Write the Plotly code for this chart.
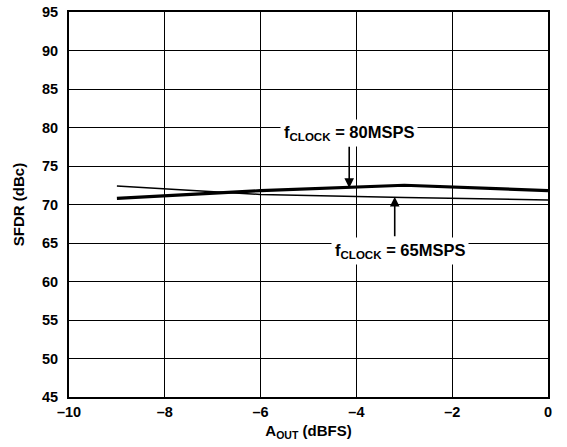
import plotly.graph_objects as go

x_vals = [-9, -6, -3, 0]
sfdr_80 = [70.8, 71.8, 72.5, 71.8]
sfdr_65 = [72.4, 71.3, 70.9, 70.6]
x_ticks = [-10, -8, -6, -4, -2, 0]
x_tick_text = ["\u201310", "\u20138", "\u20136", "\u20134", "\u20132", "0"]
y_ticks = [45, 50, 55, 60, 65, 70, 75, 80, 85, 90, 95]

FONT = "Liberation Sans, Arial, sans-serif"

fig = go.Figure()
fig.add_trace(go.Scatter(x=x_vals, y=sfdr_65, mode="lines",
                         line=dict(color="black", width=1.5), showlegend=False))
fig.add_trace(go.Scatter(x=x_vals, y=sfdr_80, mode="lines",
                         line=dict(color="black", width=3.2), showlegend=False))

# arrows
fig.add_annotation(x=-4.15, y=72.15, ax=0, ay=-43, text="", showarrow=True,
                   arrowhead=2, arrowsize=1.2, arrowwidth=1.6, arrowcolor="black",
                   xref="x", yref="y")
fig.add_annotation(x=-3.2, y=71.0, ax=0, ay=41, text="", showarrow=True,
                   arrowhead=2, arrowsize=1.2, arrowwidth=1.6, arrowcolor="black",
                   xref="x", yref="y")
# labels
fig.add_annotation(x=-4.15, y=79.3, text="f<sub>CLOCK</sub> = 80MSPS", showarrow=False,
                   bgcolor="white", borderpad=3,
                   font=dict(family=FONT, size=16.5, color="black", weight="bold"))
fig.add_annotation(x=-3.1, y=64.0, text="f<sub>CLOCK</sub> = 65MSPS", showarrow=False,
                   bgcolor="white", borderpad=3,
                   font=dict(family=FONT, size=16.5, color="black", weight="bold"))

fig.update_layout(
    width=567, height=447,
    margin=dict(l=69, r=19, t=12, b=50),
    plot_bgcolor="white", paper_bgcolor="white",
    font=dict(family=FONT, size=15, color="black", weight="bold"),
)
fig.update_xaxes(range=[-10, 0], tickvals=x_ticks, ticktext=x_tick_text,
                 automargin=False,
                 showgrid=True, gridcolor="black", gridwidth=1,
                 showline=True, linecolor="black", linewidth=2, mirror=True,
                 zeroline=False, ticks="", ticklen=0, ticklabelstandoff=1,
                 title=dict(text="A<sub>OUT</sub> (dBFS)", standoff=6,
                            font=dict(family=FONT, size=15, weight="bold")),
                 tickfont=dict(family=FONT, size=14.5, weight="bold"))
fig.update_yaxes(range=[45, 95], tickvals=y_ticks,
                 automargin=False,
                 showgrid=True, gridcolor="black", gridwidth=1,
                 showline=True, linecolor="black", linewidth=2, mirror=True,
                 zeroline=False, ticks="", ticklen=0, ticklabelstandoff=6,
                 title=dict(text="SFDR (dBc)", standoff=14,
                            font=dict(family=FONT, size=15, weight="bold")),
                 tickfont=dict(family=FONT, size=14.5, weight="bold"))

fig.write_html("out.html", config={"displayModeBar": False},
               post_script="document.body.style.margin='0';document.body.style.padding='0';document.body.style.overflow='hidden';")
